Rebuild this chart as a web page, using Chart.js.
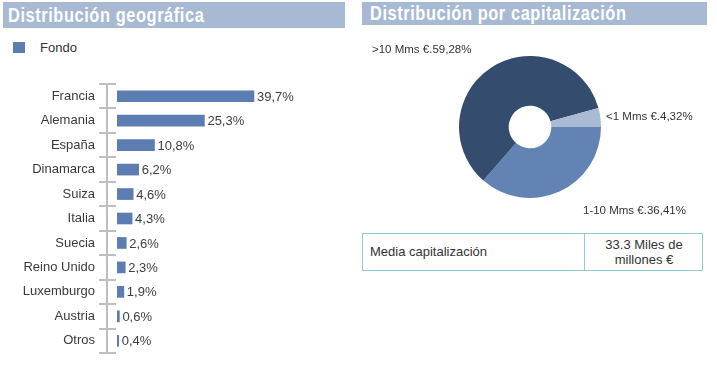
<!DOCTYPE html>
<html><head><meta charset="utf-8">
<script src="https://cdn.jsdelivr.net/npm/chart.js@4/dist/chart.umd.min.js"></script>
<style>
html,body{margin:0;padding:0;background:#fff;width:717px;height:365px;overflow:hidden;font-family:"Liberation Sans",Arial,sans-serif;}
.abs{position:absolute;}
.title{position:absolute;background:#a8b9d3;color:#fff;box-sizing:border-box;white-space:nowrap;overflow:hidden;}
.title span{display:inline-block;font-family:"Liberation Sans",Arial,sans-serif;font-weight:bold;font-size:20px;letter-spacing:0.7px;transform:scaleX(0.82);transform-origin:0 50%;}
.lbl{position:absolute;font-size:11.5px;color:#333;white-space:nowrap;line-height:13px;}
</style></head>
<body>
<div class="title" style="left:3px;top:2px;width:342px;height:26px;line-height:26px;padding-left:5px;"><span>Distribución geográfica</span></div>
<div class="title" style="left:362px;top:2px;width:345px;height:23px;line-height:23px;padding-left:8px;"><span>Distribución por capitalización</span></div>

<div class="abs" style="left:13px;top:42px;width:12px;height:11px;background:#5b7db1;"></div>
<div class="abs" style="left:40px;top:40px;font-size:13px;color:#333;line-height:16px;">Fondo</div>

<div class="abs" style="left:0;top:70px;width:350px;height:295px;"><canvas id="bar"></canvas></div>
<div class="abs" style="left:360px;top:30px;width:357px;height:195px;"><canvas id="pie"></canvas></div>

<div id="capLabels"></div>

<div class="abs" style="left:362px;top:233px;width:341px;height:38px;box-sizing:border-box;border:1px solid #94c9d8;">
  <div class="abs" style="left:7px;top:10px;font-size:13px;color:#333;line-height:16px;">Media capitalización</div>
  <div class="abs" style="left:221px;top:-1px;width:1px;height:38px;background:#94c9d8;"></div>
  <div class="abs" style="left:222px;top:3px;width:118px;text-align:center;font-size:13px;color:#333;line-height:15px;">33.3 Miles de<br>millones €</div>
</div>

<script>
const countries = ['Francia','Alemania','España','Dinamarca','Suiza','Italia','Suecia','Reino Unido','Luxemburgo','Austria','Otros'];
const fondo = [39.7,25.3,10.8,6.2,4.6,4.3,2.6,2.3,1.9,0.6,0.4];
const capCategories = ['1-10 Mms €','>10 Mms €','<1 Mms €'];
const capValues = [36.41,59.28,4.32];

const fmt = (v,d) => v.toFixed(d).replace('.',',');

const axisPlugin = {
  id:'axisPlugin',
  afterDatasetsDraw(chart){
    const ctx = chart.ctx, ca = chart.chartArea, ys = chart.scales.y;
    ctx.save();
    ctx.fillStyle = '#bfbfbf';
    const x = Math.round(ca.left);
    const top = ys.getPixelForValue(-0.5), bot = ys.getPixelForValue(countries.length-0.5);
    ctx.fillRect(x-1, top, 2, bot-top);
    for(let i=0;i<=countries.length;i++){
      const y = Math.round(ys.getPixelForValue(i-0.5));
      ctx.fillRect(x-8, y-1, 17, 2);
    }
    ctx.fillStyle = '#404040';
    ctx.font = '13px "Liberation Sans", Arial, sans-serif';
    ctx.textBaseline = 'middle';
    ctx.textAlign = 'left';
    const meta = chart.getDatasetMeta(0);
    meta.data.forEach((bar,i)=>{
      ctx.fillText(fmt(fondo[i],1)+'%', bar.x+3, bar.y+1);
    });
    ctx.restore();
  }
};

new Chart(document.getElementById('bar'),{
  type:'bar',
  data:{labels:countries,datasets:[{label:'Fondo',data:fondo,backgroundColor:'#5b7db1',barThickness:11}]},
  options:{
    indexAxis:'y',responsive:true,maintainAspectRatio:false,animation:false,
    layout:{padding:{top:14,bottom:12,right:10,left:0}},
    plugins:{legend:{display:false},tooltip:{enabled:false}},
    scales:{
      x:{display:false,min:-3,max:64.7},
      y:{
        grid:{display:false,drawTicks:false},border:{display:false},
        ticks:{padding:12,color:'#3a3a3a',font:{family:'"Liberation Sans", Arial, sans-serif',size:13}},
        afterFit(s){s.width=107;s.paddingTop=0;s.paddingBottom=0;}
      }
    }
  },
  plugins:[axisPlugin]
});

new Chart(document.getElementById('pie'),{
  type:'doughnut',
  data:{labels:capCategories,datasets:[{data:capValues,backgroundColor:['#6283b3','#344c6d','#a9bad5'],borderWidth:0}]},
  options:{
    responsive:true,maintainAspectRatio:false,animation:false,
    rotation:90,cutout:'30%',
    layout:{padding:{left:99,right:116,top:26,bottom:27}},
    plugins:{legend:{display:false},tooltip:{enabled:false}}
  }
});

const labelPos = [[583,204],[372,43],[606,110]];
const cl = document.getElementById('capLabels');
capCategories.forEach((c,i)=>{
  const d = document.createElement('div');
  d.className='lbl';
  d.style.left=labelPos[i][0]+'px'; d.style.top=labelPos[i][1]+'px';
  d.textContent = c + '.' + fmt(capValues[i],2) + '%';
  cl.appendChild(d);
});
</script>
</body></html>
